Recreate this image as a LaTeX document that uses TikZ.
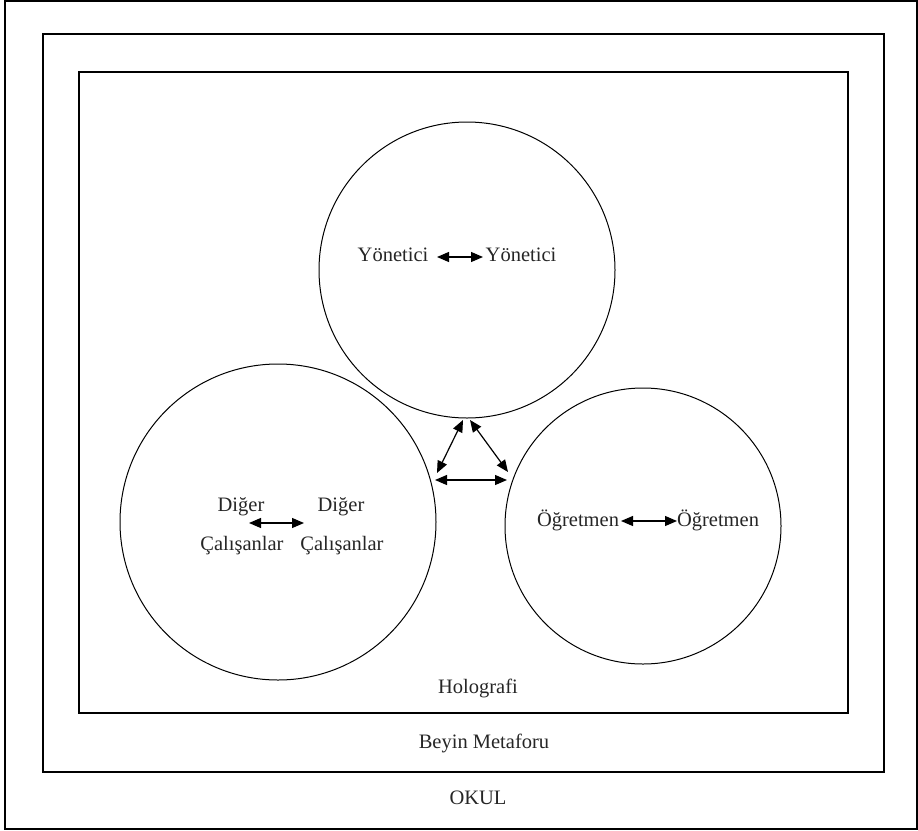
\documentclass[tikz,border=0pt]{standalone}
\usepackage{fontspec}
\setmainfont{Liberation Serif}
\usetikzlibrary{arrows.meta}
\begin{document}
\begin{tikzpicture}[x=1pt,y=-1pt,
  frame/.style={draw,line width=1.1pt},
  ring/.style={draw,line width=1pt,circle,inner sep=0pt},
  lbl/.style={font=\fontsize{20.5}{23}\selectfont,inner sep=1pt,text=black!85},
  dbl/.style={{Triangle[length=12pt,width=10pt]}-{Triangle[length=12pt,width=10pt]},line width=1.2pt}]
\useasboundingbox (0,0) rectangle (918,830);
\draw[frame] (5,1) rectangle (917,829);
\draw[frame] (43,34) rectangle (884,772);
\draw[frame] (79,72) rectangle (848,713);
\node[ring,minimum size=296pt] (top) at (467,270) {};
\node[ring,minimum size=316pt] (left) at (278,522) {};
\node[ring,minimum size=276pt] (right) at (643,526) {};
% texts
\node[lbl] (y1) at (393,255) {Yönetici};
\node[lbl] (y2) at (521,255) {Yönetici};
\node[lbl] (d1) at (241,507) {Diğer};
\node[lbl] (c1) at (242,546) {Çalışanlar};
\node[lbl] (d2) at (341,507) {Diğer};
\node[lbl] (c2) at (342,546) {Çalışanlar};
\node[lbl] (o1) at (578,520) {Öğretmen};
\node[lbl] (o2) at (718,520) {Öğretmen};
\node[lbl] (holo) at (478,688) {Holografi};
\node[lbl] (beyin) at (484,743) {Beyin Metaforu};
\node[lbl] (okul) at (478,798) {OKUL};
% arrows
\coordinate (yl) at (437,257);
\coordinate (yr) at (483,257);
\coordinate (dl) at (249,523);
\coordinate (dr) at (304,523);
\coordinate (ol) at (621,521);
\coordinate (or) at (677,521);
\draw[dbl] (yl) -- (yr);
\draw[dbl] (dl) -- (dr);
\draw[dbl] (ol) -- (or);
\coordinate (ta) at (463,420);
\coordinate (tb) at (470,420);
\coordinate (la) at (437,473);
\coordinate (ra) at (508,472);
\coordinate (hl) at (435,480);
\coordinate (hr) at (507,480);
\draw[dbl] (ta) -- (la);
\draw[dbl] (tb) -- (ra);
\draw[dbl] (hl) -- (hr);
\end{tikzpicture}
\end{document}
